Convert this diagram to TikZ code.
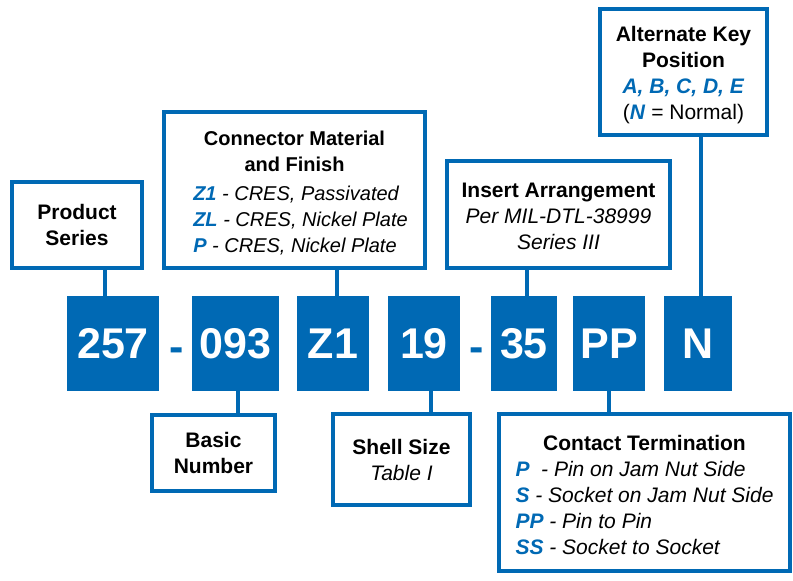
\documentclass[tikz,border=0pt]{standalone}
\usepackage{fontspec}
\setmainfont{Liberation Sans}
\usepackage{color}
\definecolor{partblue}{RGB}{0,105,180}
\newcommand{\keyLetter}[1]{\textcolor{partblue}{\textbf{\textit{#1}}}}
\newcommand{\topStrut}[1]{\rule{0pt}{#1}}

\begin{document}
\begin{tikzpicture}[x=1pt,y=-1pt,
  infobox/.style={draw=partblue,line width=4pt,fill=white,inner sep=0pt,align=center,
    font=\fontsize{21}{26}\selectfont},
  codebox/.style={fill=partblue,text=white,inner sep=0pt,minimum height=95,
    font=\fontsize{43}{43}\selectfont\bfseries},
  hyphenmark/.style={text=partblue,inner sep=0pt,anchor=base,
    font=\fontsize{43}{43}\selectfont\bfseries},
  stub/.style={draw=partblue,line width=4.5pt}]

  \useasboundingbox (0,0) rectangle (793,581);

  \node [codebox,minimum width=92] (c257) at (113,343.5) {257};
  \node [hyphenmark] (dash1) at (177,361) {-};
  \node [codebox,minimum width=87] (c093) at (235.5,343.5) {093};
  \node [codebox,minimum width=72] (cZ1) at (333,343.5) {Z1};
  \node [codebox,minimum width=72] (c19) at (424,343.5) {19};
  \node [hyphenmark] (dash2) at (477,361) {-};
  \node [codebox,minimum width=66] (c35) at (524,343.5) {35};
  \node [codebox,minimum width=72] (cPP) at (609,343.5) {PP};
  \node [codebox,minimum width=68] (cN) at (698,343.5) {N};

  \node [infobox,minimum width=130,minimum height=86] (prod) at (77,225)
    {\textbf{Product}\\\textbf{Series}};
  \node [infobox,minimum width=261,minimum height=156,font=\fontsize{20}{26}\selectfont]
    (matl) at (294.5,190)
    {\topStrut{25pt}\textbf{Connector Material}\\\textbf{and Finish}\\[3pt]
     \hspace*{12pt}\begin{tabular}[t]{@{}l@{}}
       \keyLetter{Z1} \textit{- CRES, Passivated}\\
       \keyLetter{ZL} \textit{- CRES, Nickel Plate}\\
       \keyLetter{P} \textit{- CRES, Nickel Plate}
     \end{tabular}};
  \node [infobox,minimum width=223,minimum height=107] (arrange) at (558.5,214.5)
    {\topStrut{19pt}\textbf{Insert Arrangement}\\\textit{Per MIL-DTL-38999}\\\textit{Series III}};
  \node [infobox,minimum width=167,minimum height=126] (keypos) at (683.5,72)
    {\topStrut{21pt}\textbf{Alternate Key}\\\textbf{Position}\\\keyLetter{A, B, C, D, E}\\(\keyLetter{N} = Normal)};

  \node [infobox,minimum width=123,minimum height=76] (basic) at (213.5,453)
    {\textbf{Basic}\\\textbf{Number}};
  \node [infobox,minimum width=137,minimum height=91] (shell) at (401.5,459.5)
    {\textbf{Shell Size}\\\textit{Table I}};
  \node [infobox,minimum width=291,minimum height=157] (contact) at (644.5,492.5)
    {\topStrut{27pt}\textbf{Contact Termination}\\
     \begin{tabular}[t]{@{}l@{}}
       \keyLetter{P}\ \ \textit{- Pin on Jam Nut Side}\\
       \keyLetter{S} \textit{- Socket on Jam Nut Side}\\
       \keyLetter{PP} \textit{- Pin to Pin}\\
       \keyLetter{SS} \textit{- Socket to Socket}
     \end{tabular}};

  \coordinate (s257) at ([xshift=-8pt]c257.north);
  \coordinate (sZ1) at ([xshift=4pt]cZ1.north);
  \coordinate (s35) at ([xshift=3pt]c35.north);
  \coordinate (sN) at ([xshift=3pt]cN.north);
  \coordinate (s093) at ([xshift=2.5pt]c093.south);
  \coordinate (s19) at ([xshift=7pt]c19.south);
  \coordinate (sPP) at (cPP.south);

  \draw [stub] (s257) -- (s257 |- prod.south);
  \draw [stub] (sZ1) -- (sZ1 |- matl.south);
  \draw [stub] (s35) -- (s35 |- arrange.south);
  \draw [stub] (sN) -- (sN |- keypos.south);
  \draw [stub] (s093) -- (s093 |- basic.north);
  \draw [stub] (s19) -- (s19 |- shell.north);
  \draw [stub] (sPP) -- (sPP |- contact.north);

\end{tikzpicture}
\end{document}
